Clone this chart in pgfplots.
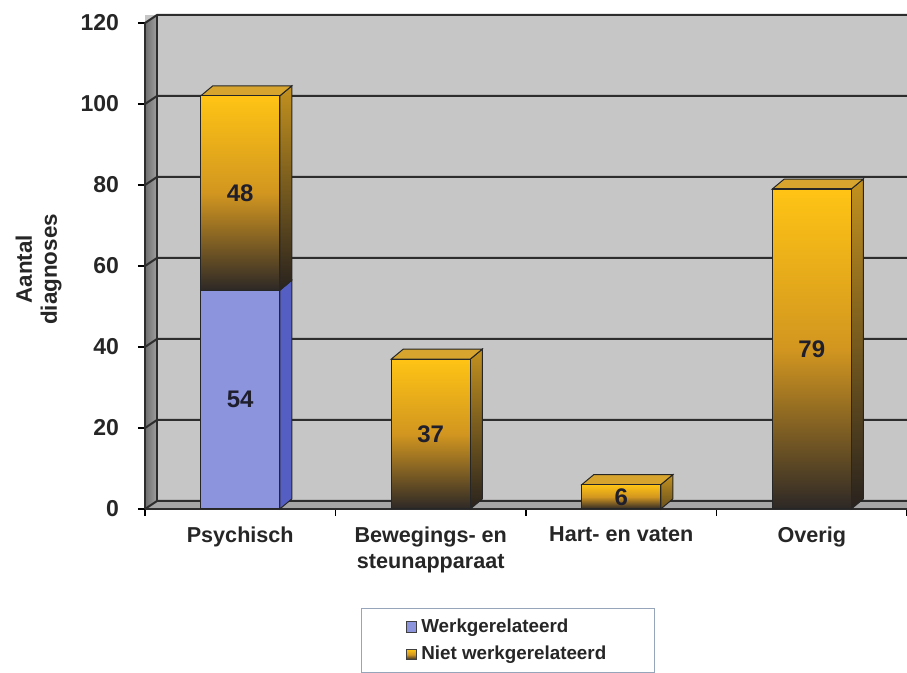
\documentclass[border=0pt]{standalone}
\usepackage{pgfplots}
\pgfplotsset{compat=1.18}
\usepackage{pgfplotstable}
\usepackage{fontspec}
\setmainfont{Liberation Sans}
\definecolor{wallc}{RGB}{198,198,198}
\definecolor{leftwallL}{RGB}{110,110,110}
\definecolor{leftwallR}{RGB}{160,160,160}
\definecolor{floorc}{RGB}{165,165,165}
\definecolor{gridc}{RGB}{45,45,45}
\definecolor{werkc}{RGB}{140,148,222}
\definecolor{werkside}{RGB}{85,95,195}
\definecolor{goldtop}{RGB}{255,196,20}
\definecolor{goldmid}{RGB}{210,150,32}
\definecolor{goldbot}{RGB}{45,40,38}
\definecolor{sidetop}{RGB}{195,145,30}
\definecolor{sidebot}{RGB}{40,34,30}
\definecolor{topface}{RGB}{215,165,45}
\definecolor{labc}{RGB}{30,30,45}
\definecolor{legc}{RGB}{150,165,185}
\begin{document}
\begin{tikzpicture}
% Werkgerelateerd
\pgfplotstableread{
x y
0 54
}\werk
% Niet werkgerelateerd (Psychisch, stacked on Werkgerelateerd)
\pgfplotstableread{
x y
0 48
}\nietA
% Niet werkgerelateerd (other categories)
\pgfplotstableread{
x y
1 37
}\nietB
\pgfplotstableread{
x y
2 6
}\nietC
\pgfplotstableread{
x y
3 79
}\nietD
\pgfplotsset{base/.style={x=95.25pt, y=2.025pt, xmin=-0.5, xmax=3.5, ymin=0, ymax=122,
  at={(0,0)}, anchor=south west, axis line style={draw=none}},
  barlab/.style={/pgf/number format/assume math mode=true,
    every node near coord/.append style={anchor=center, font=\bfseries\fontsize{12}{14}\selectfont, text=labc}},
  goldbar/.style={draw=black!85, line width=0.6pt, top color=goldtop, bottom color=goldbot, middle color=goldmid,
    visualization depends on={\thisrow{y} \as \rawy}, point meta=explicit,
    nodes near coords={\pgfmathprintnumber{\pgfplotspointmeta}}}}

\begin{axis}[base, clip=false,
  axis background/.style={fill=wallc},
  ytick={0,20,...,120}, xtick={0,1,2,3},
  xticklabels={Psychisch,{Bewegings- en\\steunapparaat},Hart- en vaten,Overig},
  minor xtick={-0.5,0.5,1.5,2.5,3.5},
  tick pos=left, tick align=outside,
  major tick length=3.5pt, minor tick length=3.5pt,
  tick style={black, line width=0.7pt},
  major x tick style={draw=none},
  /pgf/number format/assume math mode=true,
  yticklabel style={font=\bfseries\fontsize{11.5}{13}\selectfont, text=black!85, xshift=-6pt},
  xticklabel style={font=\bfseries\fontsize{10.8}{13}\selectfont, text=black!85, align=center, yshift=-2pt},
  ylabel={Aantal\\diagnoses},
  ylabel style={align=center, font=\bfseries\fontsize{11.2}{12.5}\selectfont, text=black!85,
    at={(axis description cs:-0.10,0.485)}, anchor=south},
]
% floor
\fill[floorc] (axis cs:-0.5,0) -- ++(6pt,4pt) -- ([yshift=4pt]axis cs:3.5,0) -- (axis cs:3.5,0) -- cycle;
% left wall
\fill[left color=leftwallL, right color=leftwallR] (axis cs:-0.5,0) -- ++(6pt,4pt) -- ([xshift=6pt,yshift=4pt]axis cs:-0.5,120) -- (axis cs:-0.5,120) -- cycle;
% grid lines
\pgfplotsinvokeforeach{0,20,40,60,80,100,120}{
  \draw[gridc, line width=1pt] (axis cs:-0.5,#1) -- ++(6pt,4pt) -- ([yshift=4pt]axis cs:3.5,#1);
}
\draw[gridc, line width=1pt] ([xshift=6pt,yshift=4pt]axis cs:-0.5,0) -- ([xshift=6pt,yshift=4pt]axis cs:-0.5,120);
\draw[gridc, line width=1.2pt] (axis cs:-0.5,0) -- (axis cs:-0.5,120);
\draw[gridc, line width=1.2pt] (axis cs:-0.5,0) -- (axis cs:3.5,0);
% 3D side and top faces of the bars
\addplot[draw=black!85, line width=0.5pt, fill=werkside] coordinates {(0.2074,0) (0.2704,2.47) (0.2704,56.47) (0.2074,54)} -- cycle;
\addplot[draw=black!85, line width=0.5pt, top color=sidetop, bottom color=sidebot] coordinates {(0.2074,54) (0.2704,56.47) (0.2704,104.47) (0.2074,102)} -- cycle;
\addplot[draw=black!85, line width=0.5pt, fill=topface] coordinates {(-0.2074,102) (-0.1444,104.47) (0.2704,104.47) (0.2074,102)} -- cycle;
\addplot[draw=black!85, line width=0.5pt, top color=sidetop, bottom color=sidebot] coordinates {(1.2074,0) (1.2704,2.47) (1.2704,39.47) (1.2074,37)} -- cycle;
\addplot[draw=black!85, line width=0.5pt, fill=topface] coordinates {(0.7926,37) (0.8556,39.47) (1.2704,39.47) (1.2074,37)} -- cycle;
\addplot[draw=black!85, line width=0.5pt, top color=sidetop, bottom color=sidebot!60!sidetop] coordinates {(2.2074,0) (2.2704,2.47) (2.2704,8.47) (2.2074,6)} -- cycle;
\addplot[draw=black!85, line width=0.5pt, fill=topface] coordinates {(1.7926,6) (1.8556,8.47) (2.2704,8.47) (2.2074,6)} -- cycle;
\addplot[draw=black!85, line width=0.5pt, top color=sidetop, bottom color=sidebot] coordinates {(3.2074,0) (3.2704,2.47) (3.2704,81.47) (3.2074,79)} -- cycle;
\addplot[draw=black!85, line width=0.5pt, fill=topface] coordinates {(2.7926,79) (2.8556,81.47) (3.2704,81.47) (3.2074,79)} -- cycle;
\end{axis}

% stacked bar: Psychisch
\begin{axis}[base, hide axis, ybar stacked, bar width=39.5pt, barlab,
  legend cell align=left,
  legend style={at={(axis description cs:0.4764,-0.2004)}, anchor=north,
    draw=legc, line width=0.7pt, fill=white, text=black!85,
    font=\bfseries\fontsize{9.4}{11}\selectfont,
    inner xsep=22pt, inner ysep=3pt, row sep=1.5pt},
]
\addplot[draw=black!85, line width=0.6pt, fill=werkc,
  visualization depends on={\thisrow{y} \as \rawy}, point meta=explicit,
  nodes near coords={\pgfmathprintnumber{\pgfplotspointmeta}},
  legend image code/.code={\draw[fill=werkc, draw=black!75, line width=0.6pt] (0pt,-2.6pt) rectangle (5.2pt,2.6pt);}]
  table[x=x, y=y, meta=y] {\werk};
\addlegendentry{Werkgerelateerd}
\addplot[goldbar,
  legend image code/.code={\draw[fill=goldtop, draw=black!75, line width=0.6pt] (0pt,-2.6pt) rectangle (5.2pt,2.6pt);}]
  table[x=x, y=y, meta=y] {\nietA};
\addlegendentry{Niet werkgerelateerd}
\end{axis}

% single bars: other categories
\begin{axis}[base, hide axis, ybar, bar width=39.5pt, barlab,
  every node near coord/.append style={shift={(axis direction cs:0,-\rawy/2)}}]
\addplot[goldbar, bar shift=0pt] table[x=x, y=y, meta=y] {\nietB};
\addplot[goldbar, bar shift=0pt] table[x=x, y=y, meta=y] {\nietC};
\addplot[goldbar, bar shift=0pt] table[x=x, y=y, meta=y] {\nietD};
\end{axis}
\pgfresetboundingbox
\useasboundingbox (-72.5pt,-82pt) rectangle (381pt,254.5pt);
\end{tikzpicture}
\end{document}
